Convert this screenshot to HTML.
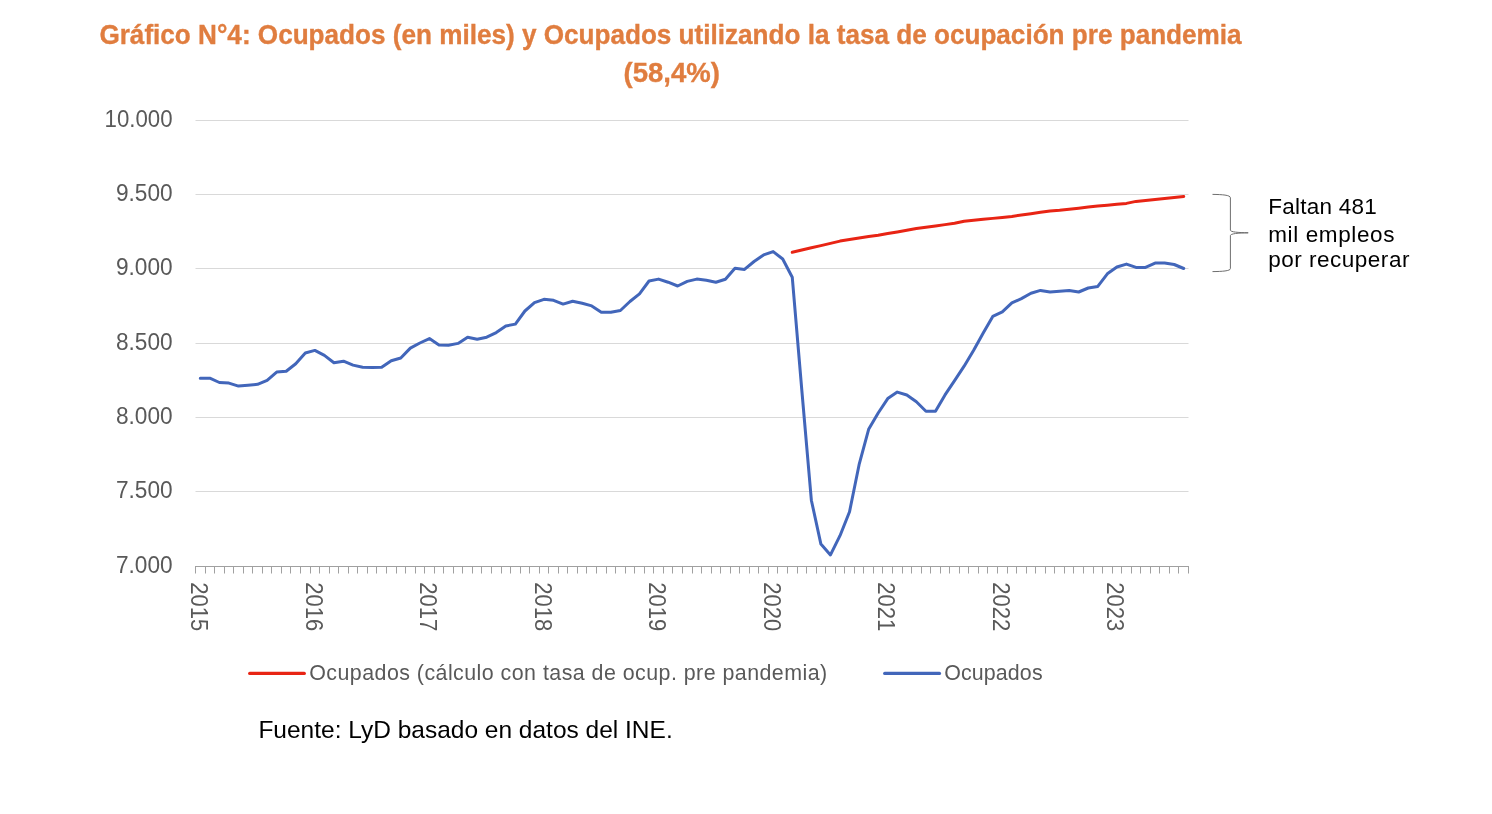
<!DOCTYPE html>
<html><head><meta charset="utf-8">
<style>
html,body{margin:0;padding:0;background:#fff;}
svg{display:block;will-change:transform;}
text{font-family:"Liberation Sans",sans-serif;}
.title{font-weight:bold;fill:#E07D3F;font-size:27.7px;stroke:#E07D3F;stroke-width:0.35px;}
.yl{fill:#595959;font-size:23.0px;}
.xl{fill:#595959;font-size:23px;}
.lg{fill:#595959;font-size:21.4px;}
.ann{fill:#000;font-size:22.5px;}
.src{fill:#000;font-size:24.4px;}
</style></head>
<body>
<svg width="1492" height="814" viewBox="0 0 1492 814">
<rect width="1492" height="814" fill="#fff"/>
<text x="99.4" y="44" class="title" textLength="1142.2" lengthAdjust="spacingAndGlyphs">Gráfico N°4: Ocupados (en miles) y Ocupados utilizando la tasa de ocupación pre pandemia</text>
<text x="623.5" y="81.7" class="title" textLength="96.4" lengthAdjust="spacingAndGlyphs">(58,4%)</text>
<line x1="195.5" y1="491.50" x2="1188.5" y2="491.50" stroke="#D9D9D9" stroke-width="1"/>
<line x1="195.5" y1="417.50" x2="1188.5" y2="417.50" stroke="#D9D9D9" stroke-width="1"/>
<line x1="195.5" y1="343.50" x2="1188.5" y2="343.50" stroke="#D9D9D9" stroke-width="1"/>
<line x1="195.5" y1="268.50" x2="1188.5" y2="268.50" stroke="#D9D9D9" stroke-width="1"/>
<line x1="195.5" y1="194.50" x2="1188.5" y2="194.50" stroke="#D9D9D9" stroke-width="1"/>
<line x1="195.5" y1="120.50" x2="1188.5" y2="120.50" stroke="#D9D9D9" stroke-width="1"/>

<line x1="195" y1="566.5" x2="1189" y2="566.5" stroke="#A0A0A0" stroke-width="1"/>
<path d="M195.50,566 V573.5 M205.50,566 V573.5 M214.50,566 V573.5 M224.50,566 V573.5 M233.50,566 V573.5 M243.50,566 V573.5 M252.50,566 V573.5 M262.50,566 V573.5 M271.50,566 V573.5 M281.50,566 V573.5 M290.50,566 V573.5 M300.50,566 V573.5 M310.50,566 V573.5 M319.50,566 V573.5 M329.50,566 V573.5 M338.50,566 V573.5 M348.50,566 V573.5 M357.50,566 V573.5 M367.50,566 V573.5 M376.50,566 V573.5 M386.50,566 V573.5 M396.50,566 V573.5 M405.50,566 V573.5 M415.50,566 V573.5 M424.50,566 V573.5 M434.50,566 V573.5 M443.50,566 V573.5 M453.50,566 V573.5 M462.50,566 V573.5 M472.50,566 V573.5 M481.50,566 V573.5 M491.50,566 V573.5 M501.50,566 V573.5 M510.50,566 V573.5 M520.50,566 V573.5 M529.50,566 V573.5 M539.50,566 V573.5 M548.50,566 V573.5 M558.50,566 V573.5 M567.50,566 V573.5 M577.50,566 V573.5 M586.50,566 V573.5 M596.50,566 V573.5 M606.50,566 V573.5 M615.50,566 V573.5 M625.50,566 V573.5 M634.50,566 V573.5 M644.50,566 V573.5 M653.50,566 V573.5 M663.50,566 V573.5 M672.50,566 V573.5 M682.50,566 V573.5 M692.50,566 V573.5 M701.50,566 V573.5 M711.50,566 V573.5 M720.50,566 V573.5 M730.50,566 V573.5 M739.50,566 V573.5 M749.50,566 V573.5 M758.50,566 V573.5 M768.50,566 V573.5 M777.50,566 V573.5 M787.50,566 V573.5 M797.50,566 V573.5 M806.50,566 V573.5 M816.50,566 V573.5 M825.50,566 V573.5 M835.50,566 V573.5 M844.50,566 V573.5 M854.50,566 V573.5 M863.50,566 V573.5 M873.50,566 V573.5 M882.50,566 V573.5 M892.50,566 V573.5 M902.50,566 V573.5 M911.50,566 V573.5 M921.50,566 V573.5 M930.50,566 V573.5 M940.50,566 V573.5 M949.50,566 V573.5 M959.50,566 V573.5 M968.50,566 V573.5 M978.50,566 V573.5 M987.50,566 V573.5 M997.50,566 V573.5 M1007.50,566 V573.5 M1016.50,566 V573.5 M1026.50,566 V573.5 M1035.50,566 V573.5 M1045.50,566 V573.5 M1054.50,566 V573.5 M1064.50,566 V573.5 M1073.50,566 V573.5 M1083.50,566 V573.5 M1093.50,566 V573.5 M1102.50,566 V573.5 M1112.50,566 V573.5 M1121.50,566 V573.5 M1131.50,566 V573.5 M1140.50,566 V573.5 M1150.50,566 V573.5 M1159.50,566 V573.5 M1169.50,566 V573.5 M1178.50,566 V573.5 M1188.50,566 V573.5 " stroke="#A0A0A0" stroke-width="1" fill="none"/>
<text x="115.90" y="573.00" class="yl" textLength="56.7" lengthAdjust="spacingAndGlyphs">7.000</text>
<text x="115.90" y="498.00" class="yl" textLength="56.7" lengthAdjust="spacingAndGlyphs">7.500</text>
<text x="115.90" y="424.00" class="yl" textLength="56.7" lengthAdjust="spacingAndGlyphs">8.000</text>
<text x="115.90" y="350.00" class="yl" textLength="56.7" lengthAdjust="spacingAndGlyphs">8.500</text>
<text x="115.90" y="275.00" class="yl" textLength="56.7" lengthAdjust="spacingAndGlyphs">9.000</text>
<text x="115.90" y="201.00" class="yl" textLength="56.7" lengthAdjust="spacingAndGlyphs">9.500</text>
<text x="104.60" y="127.00" class="yl" textLength="68.0" lengthAdjust="spacingAndGlyphs">10.000</text>

<text transform="translate(191.20,582.3) rotate(90)" class="xl" textLength="48.9" lengthAdjust="spacingAndGlyphs">2015</text>
<text transform="translate(305.68,582.3) rotate(90)" class="xl" textLength="48.9" lengthAdjust="spacingAndGlyphs">2016</text>
<text transform="translate(420.16,582.3) rotate(90)" class="xl" textLength="48.9" lengthAdjust="spacingAndGlyphs">2017</text>
<text transform="translate(534.64,582.3) rotate(90)" class="xl" textLength="48.9" lengthAdjust="spacingAndGlyphs">2018</text>
<text transform="translate(649.12,582.3) rotate(90)" class="xl" textLength="48.9" lengthAdjust="spacingAndGlyphs">2019</text>
<text transform="translate(763.60,582.3) rotate(90)" class="xl" textLength="48.9" lengthAdjust="spacingAndGlyphs">2020</text>
<text transform="translate(878.08,582.3) rotate(90)" class="xl" textLength="48.9" lengthAdjust="spacingAndGlyphs">2021</text>
<text transform="translate(992.56,582.3) rotate(90)" class="xl" textLength="48.9" lengthAdjust="spacingAndGlyphs">2022</text>
<text transform="translate(1107.04,582.3) rotate(90)" class="xl" textLength="48.9" lengthAdjust="spacingAndGlyphs">2023</text>

<path d="M792.25,252.30 L801.80,250.00 L811.35,247.80 L820.90,245.60 L830.45,243.40 L840.00,241.10 L849.54,239.55 L859.09,238.00 L868.64,236.50 L878.19,235.30 L887.74,233.60 L897.28,231.90 L906.83,230.20 L916.38,228.60 L925.93,227.28 L935.48,225.95 L945.02,224.62 L954.57,223.30 L964.12,221.30 L973.67,220.33 L983.22,219.35 L992.76,218.38 L1002.31,217.40 L1011.86,216.40 L1021.41,215.05 L1030.96,213.70 L1040.50,212.35 L1050.05,211.00 L1059.60,210.30 L1069.15,209.23 L1078.70,208.15 L1088.25,207.07 L1097.79,206.00 L1107.34,205.20 L1116.89,204.30 L1126.44,203.40 L1135.99,201.40 L1145.53,200.43 L1155.08,199.45 L1164.63,198.47 L1174.18,197.50 L1183.73,196.50" stroke="#E82414" stroke-width="3" fill="none" stroke-linejoin="round" stroke-linecap="round"/>
<path d="M200.27,378.20 L209.82,378.20 L219.37,382.50 L228.92,383.10 L238.47,386.10 L248.01,385.30 L257.56,384.30 L267.11,380.40 L276.66,372.10 L286.21,371.30 L295.75,363.80 L305.30,353.00 L314.85,350.40 L324.40,355.40 L333.95,362.80 L343.50,361.20 L353.04,365.10 L362.59,367.30 L372.14,367.50 L381.69,367.30 L391.24,360.70 L400.78,358.00 L410.33,348.10 L419.88,343.00 L429.43,338.60 L438.98,344.90 L448.52,345.20 L458.07,343.40 L467.62,337.20 L477.17,339.30 L486.72,337.20 L496.26,332.60 L505.81,326.00 L515.36,324.10 L524.91,311.00 L534.46,302.70 L544.00,299.30 L553.55,300.30 L563.10,304.10 L572.65,301.30 L582.20,303.30 L591.75,305.90 L601.29,312.20 L610.84,312.20 L620.39,310.50 L629.94,301.50 L639.49,293.80 L649.03,281.00 L658.58,279.10 L668.13,282.20 L677.68,286.00 L687.23,281.40 L696.77,279.10 L706.32,280.20 L715.87,282.20 L725.42,279.30 L734.97,268.20 L744.51,269.40 L754.06,261.50 L763.61,254.90 L773.16,251.60 L782.71,259.00 L792.25,277.20 L801.80,390.00 L811.35,500.20 L820.90,544.10 L830.45,554.90 L840.00,535.70 L849.54,511.70 L859.09,464.70 L868.64,429.30 L878.19,413.00 L887.74,398.60 L897.28,392.10 L906.83,395.00 L916.38,401.80 L925.93,411.20 L935.48,411.20 L945.02,394.90 L954.57,380.60 L964.12,366.20 L973.67,350.20 L983.22,333.00 L992.76,316.40 L1002.31,311.90 L1011.86,302.90 L1021.41,298.60 L1030.96,293.30 L1040.50,290.40 L1050.05,292.00 L1059.60,291.30 L1069.15,290.40 L1078.70,292.00 L1088.25,288.00 L1097.79,286.40 L1107.34,273.80 L1116.89,267.00 L1126.44,264.10 L1135.99,267.40 L1145.53,267.40 L1155.08,263.10 L1164.63,263.10 L1174.18,264.50 L1183.73,268.50" stroke="#4266BA" stroke-width="3" fill="none" stroke-linejoin="round" stroke-linecap="round"/>
<path d="M1212.5,194.4 C1222,194.5 1230.4,195 1230.4,197.8 L1230.4,230.2 C1230.4,232 1238,232.6 1248.2,232.8 C1238,233 1230.4,233.6 1230.4,235.6 L1230.4,268.6 C1230.4,271 1222,271.5 1212.5,271.6" stroke="#6E6E6E" stroke-width="1" fill="none"/>
<text x="1268.2" y="213.8" class="ann" textLength="108.5" lengthAdjust="spacing">Faltan 481</text>
<text x="1268.2" y="241.9" class="ann" textLength="126.2" lengthAdjust="spacing">mil empleos</text>
<text x="1268.2" y="267.3" class="ann" textLength="141.2" lengthAdjust="spacing">por recuperar</text>
<line x1="249.7" y1="673.4" x2="304.3" y2="673.4" stroke="#E82414" stroke-width="3.2" stroke-linecap="round"/>
<text x="309.2" y="679.8" class="lg" textLength="518" lengthAdjust="spacing">Ocupados (cálculo con tasa de ocup. pre pandemia)</text>
<line x1="884.7" y1="673.4" x2="939.5" y2="673.4" stroke="#4266BA" stroke-width="3.2" stroke-linecap="round"/>
<text x="944.2" y="679.8" class="lg" textLength="98.4" lengthAdjust="spacing">Ocupados</text>
<text x="258.4" y="737.5" class="src" textLength="414.3" lengthAdjust="spacingAndGlyphs">Fuente: LyD basado en datos del INE.</text>
</svg>
</body></html>
